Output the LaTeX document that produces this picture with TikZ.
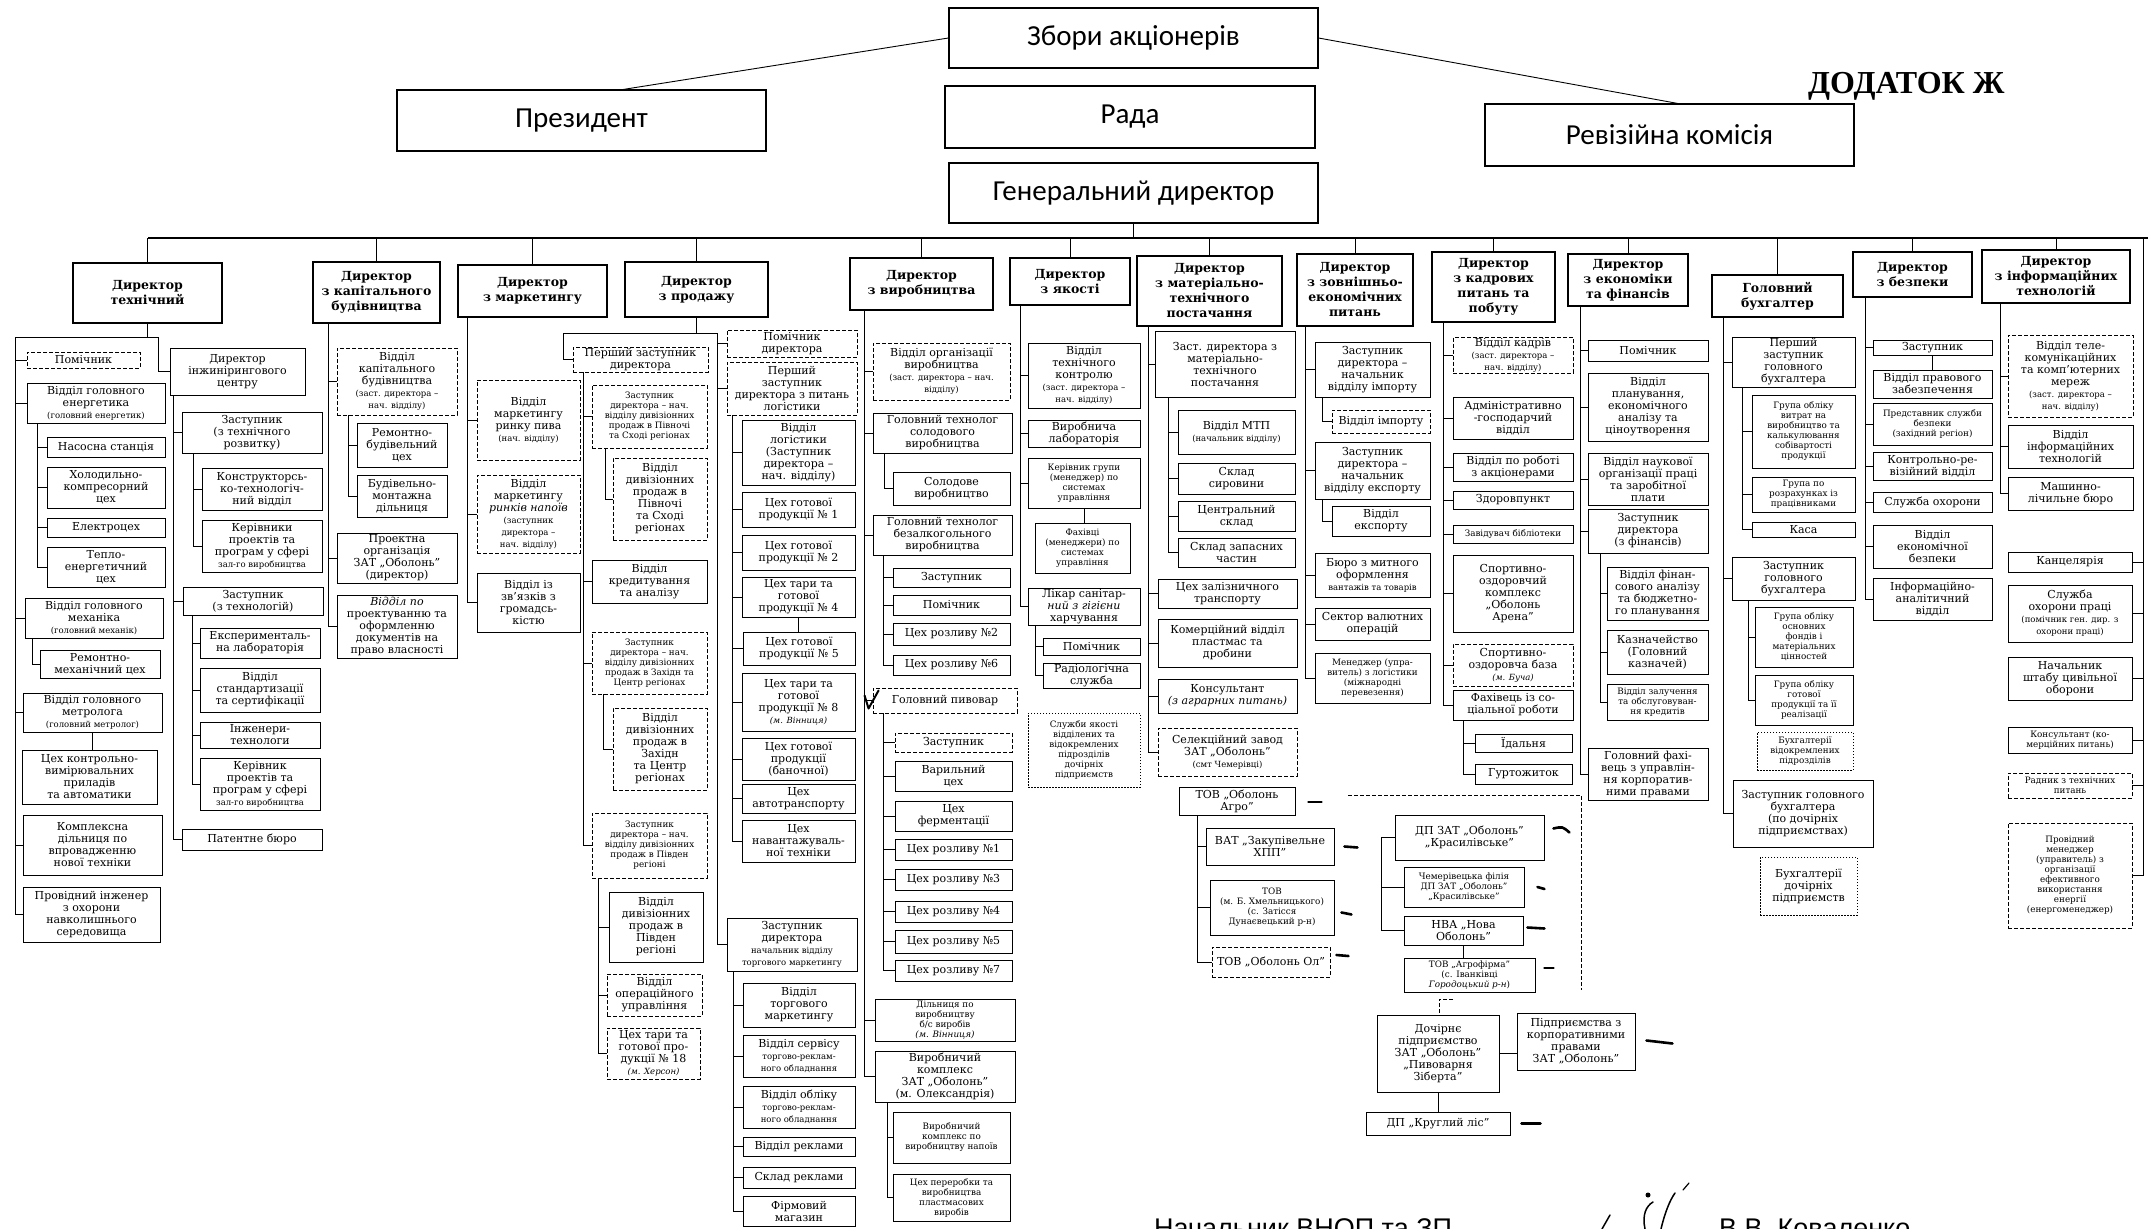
\documentclass[tikz,border=0pt]{standalone}
\usepackage{fontspec}
\setmainfont{DejaVu Serif}
\newfontfamily\hdrf{Carlito}
\newfontfamily\tmsf{Liberation Serif}
\newfontfamily\arsf{Liberation Sans}
\usetikzlibrary{calc}
\tikzset{
 box/.style={draw, line width=0.9pt, align=center, inner sep=1pt, font=\fontsize{11}{12}\selectfont},
 dir/.style={line width=1.3pt, font=\bfseries\fontsize{12.5}{15}\selectfont},
 hdrb/.style={line width=1.2pt, font=\hdrf\fontsize{29}{31}\selectfont},
 smf/.style={font=\fontsize{8.8}{10}\selectfont},
 dsh/.style={dash pattern=on 4pt off 2pt},
 dotb/.style={dash pattern=on 1.5pt off 1.5pt},
 ln/.style={line width=0.9pt},
 mk/.style={line width=2.6pt, line cap=round},
}
\newcommand\smtxt{\fontsize{8.5}{9}\selectfont}
\newcommand\bx[7][]{\node[box,#1,minimum width={(#5)-(#3)},minimum height={(#6)-(#4)}] (#2) at ({((#3)+(#5))/2},{((#4)+(#6))/2}) {#7};}
\newcommand\tree[3]{\coordinate (sp) at (#2,0); \foreach \ch in {#3}{\draw[ln] (#1.south -| sp) |- (\ch.west);}}
\begin{document}
\begin{tikzpicture}[x=1pt,y=-1pt]
\fill[white] (0,0) rectangle (2148,1229);
\useasboundingbox (0,0) rectangle (2148,1229);
% header
\bx[hdrb]{zb}{949}{8}{1318}{68}{Збори акціонерів}
\bx[hdrb]{pres}{397}{90}{766}{151}{Президент}
\bx[hdrb]{rada}{945}{86}{1315}{148}{Рада}
\bx[hdrb]{rev}{1485}{104}{1854}{166}{Ревізійна комісія}
\bx[hdrb]{gd}{949}{163}{1318}{223}{Генеральний директор}
\node[font=\tmsf\bfseries\fontsize{32}{34}\selectfont, anchor=base west, inner sep=0] (dod) at (1808,93) {ДОДАТОК Ж};
\draw[ln] (zb.west) -- ($(pres.north)+(42,0)$);
\draw[ln] (zb.east) -- ($(rev.north)+(8,0)$);
% col1
\bx[dir]{dT}{73}{263}{222}{323}{Директор\\технічний}
\bx[dsh]{pom1}{27}{352}{140}{368}{Помічник}
\bx{ven}{27}{383}{165}{423}{Відділ головного\\енергетика\\{\smtxt(головний енергетик)}}
\bx{nas}{47}{437}{165}{457}{Насосна станція}
\bx{hol}{47}{467}{165}{508}{Холодильно-\\компресорний\\цех}
\bx{el}{47}{518}{165}{537}{Електроцех}
\bx{tep}{47}{547}{165}{587}{Тепло-\\енергетичний\\цех}
\bx{vmeh}{25}{598}{163}{638}{Відділ головного\\механіка\\{\smtxt(головний механік)}}
\bx{rmc}{40}{650}{160}{678}{Ремонтно-\\механічний цех}
\bx{vmet}{23}{693}{162}{732}{Відділ головного\\метролога\\{\smtxt(головний метролог)}}
\bx{kvp}{22}{750}{157}{804}{Цех контрольно-\\вимірювальних\\приладів\\та автоматики}
\bx{kdil}{23}{815}{162}{875}{Комплексна\\дільниця по\\впровадженню\\нової техніки}
\bx{prov}{23}{887}{160}{942}{Провідний інженер\\з охорони\\навколишнього\\середовища}
\bx{dic}{170}{348}{305}{395}{Директор\\інжинірингового\\центру}
\bx{zt}{182}{412}{322}{453}{Заступник\\(з технічного\\розвитку)}
\bx{ktv}{202}{468}{322}{510}{Конструкторсь-\\ко-технологіч-\\ний відділ}
\bx{kpp1}{202}{520}{322}{572}{Керівники\\проектів та\\програм у сфері\\{\smtxt зал-го виробництва}}
\bx{ztech}{183}{587}{323}{615}{Заступник\\(з технологій)}
\bx{exl}{200}{628}{320}{658}{Експерименталь-\\на лабораторія}
\bx{vst}{200}{668}{320}{712}{Відділ\\стандартизації\\та сертифікації}
\bx{inz}{200}{722}{320}{748}{Інженери-\\технологи}
\bx{kpp2}{200}{758}{320}{810}{Керівник\\проектів та\\програм у сфері\\{\smtxt зал-го виробництва}}
\bx{pat}{182}{829}{322}{850}{Патентне бюро}
% col2
\bx[dir]{dKB}{313}{262}{440}{323}{Директор\\з капітального\\будівництва}
\bx[dsh]{vkb}{337}{348}{457}{415}{Відділ\\капітального\\будівництва\\{\smtxt(заст. директора –}\\{\smtxt нач. відділу)}}
\bx{rbc}{357}{423}{447}{467}{Ремонтно-\\будівельний\\цех}
\bx{bmd}{357}{475}{447}{517}{Будівельно-\\монтажна\\дільниця}
\bx{proj}{337}{533}{457}{583}{Проектна\\організація\\ЗАТ „Оболонь”\\(директор)}
\bx{vpr}{337}{595}{457}{658}{{\itshape Відділ по}\\проектуванню та\\оформленню\\документів на\\право власності}
% col3
\bx[dir]{dM}{458}{265}{607}{317}{Директор\\з маркетингу}
\bx[dsh]{vmp}{477}{380}{580}{460}{Відділ\\маркетингу\\ринку пива\\{\smtxt(нач. відділу)}}
\bx[dsh]{vmn}{477}{475}{580}{553}{Відділ\\маркетингу\\{\itshape ринків напоїв}\\{\smtxt(заступник}\\{\smtxt директора –}\\{\smtxt нач. відділу)}}
\bx{vzg}{477}{573}{580}{632}{Відділ із\\зв'язків з\\громадсь-\\кістю}
% col4
\bx[dir]{dP}{625}{262}{768}{317}{Директор\\з продажу}
\bx[dsh]{pz}{573}{347}{708}{372}{Перший заступник\\директора}
\bx[dsh,smf]{zpn}{592}{385}{707}{448}{Заступник\\директора – нач.\\відділу дивізіонних\\продаж в Півночі\\та Сході регіонах}
\bx[dsh]{vdpn}{613}{458}{707}{540}{Відділ\\дивізіонних\\продаж в\\Півночі\\та Сході\\регіонах}
\bx{vkr}{592}{560}{707}{603}{Відділ\\кредитування\\та аналізу}
\bx[dsh,smf]{zzc}{592}{632}{707}{694}{Заступник\\директора – нач.\\відділу дивізіонних\\продаж в Західн та\\Центр регіонах}
\bx[dsh]{vdzc}{613}{708}{707}{790}{Відділ\\дивізіонних\\продаж в\\Західн\\та Центр\\регіонах}
\bx[dsh,smf]{zpd}{592}{813}{707}{878}{Заступник\\директора – нач.\\відділу дивізіонних\\продаж в Півден\\регіоні}
\bx{vdpd}{609}{892}{703}{962}{Відділ\\дивізіонних\\продаж в\\Півден\\регіоні}
\bx[dsh]{vop}{607}{974}{702}{1016}{Відділ\\операційного\\управління}
\bx[dsh]{ct18}{607}{1028}{700}{1079}{Цех тари та\\готової про-\\дукції № 18\\{\smtxt\itshape(м. Херсон)}}
\bx[dsh]{pomd}{727}{330}{857}{357}{Помічник\\директора}
\bx[dsh]{pzl}{727}{362}{857}{415}{Перший\\заступник\\директора з питань\\логістики}
\bx{vlog}{742}{420}{855}{485}{Відділ\\логістики\\(Заступник\\директора –\\нач. відділу)}
\bx{c1}{742}{492}{855}{527}{Цех готової\\продукції № 1}
\bx{c2}{742}{535}{855}{570}{Цех готової\\продукції № 2}
\bx{c4}{742}{577}{855}{617}{Цех тари та\\готової\\продукції № 4}
\bx{c5}{743}{632}{855}{665}{Цех готової\\продукції № 5}
\bx{c8}{742}{673}{855}{731}{Цех тари та\\готової\\продукції № 8\\{\smtxt\itshape(м. Вінниця)}}
\bx{cban}{742}{738}{855}{780}{Цех готової\\продукції\\(баночної)}
\bx{cavt}{742}{784}{855}{813}{Цех\\автотранспорту}
\bx{cnav}{742}{820}{855}{862}{Цех\\навантажуваль-\\ної техніки}
\bx{ztm}{727}{918}{857}{971}{Заступник\\директора\\{\smtxt начальник відділу}\\{\smtxt торгового маркетингу}}
\bx{vtm}{743}{983}{855}{1027}{Відділ\\торгового\\маркетингу}
\bx{vser}{743}{1035}{855}{1077}{Відділ сервісу\\{\smtxt торгово-реклам-}\\{\smtxt ного обладнання}}
\bx{vobl}{743}{1086}{855}{1128}{Відділ обліку\\{\smtxt торгово-реклам-}\\{\smtxt ного обладнання}}
\bx{vrek}{743}{1137}{855}{1156}{Відділ реклами}
\bx{skr}{743}{1167}{855}{1188}{Склад реклами}
\bx{fm}{743}{1196}{855}{1226}{Фірмовий\\магазин}
% col5
\bx[dir]{dV}{850}{258}{993}{310}{Директор\\з виробництва}
\bx[dsh]{vorg}{873}{343}{1010}{400}{Відділ організації\\виробництва\\{\smtxt(заст. директора – нач.}\\{\smtxt відділу)}}
\bx{gts}{873}{413}{1012}{453}{Головний технолог\\солодового\\виробництва}
\bx{sol}{893}{472}{1010}{505}{Солодове\\виробництво}
\bx{gtb}{873}{515}{1012}{555}{Головний технолог\\безалкогольного\\виробництва}
\bx{zb}{893}{568}{1010}{587}{Заступник}
\bx{pomb}{893}{595}{1010}{615}{Помічник}
\bx{cr2}{893}{623}{1010}{645}{Цех розливу №2}
\bx{cr6}{893}{655}{1010}{675}{Цех розливу №6}
\bx[dsh]{gp}{873}{688}{1017}{713}{Головний пивовар}
\bx[dsh]{zgp}{895}{733}{1012}{752}{Заступник}
\bx{var}{895}{761}{1012}{791}{Варильний\\цех}
\bx{fer}{895}{801}{1012}{831}{Цех\\ферментації}
\bx{cr1}{895}{839}{1012}{860}{Цех розливу №1}
\bx{cr3}{895}{869}{1012}{890}{Цех розливу №3}
\bx{cr4}{895}{901}{1012}{922}{Цех розливу №4}
\bx{cr5}{895}{930}{1012}{953}{Цех розливу №5}
\bx{cr7}{895}{960}{1012}{981}{Цех розливу №7}
\bx[smf]{dil}{875}{999}{1015}{1041}{Дільниця по\\виробництву\\б/с виробів\\{\itshape(м. Вінниця)}}
\bx{vk}{875}{1051}{1015}{1102}{Виробничий\\комплекс\\ЗАТ „Оболонь”\\(м. Олександрія)}
\bx[smf]{vkn}{893}{1112}{1010}{1163}{Виробничий\\комплекс по\\виробництву напоїв}
\bx[smf]{cpp}{893}{1174}{1010}{1221}{Цех переробки та\\виробництва\\пластмасових\\виробів}
% col6
\bx[dir]{dQ}{1010}{258}{1130}{305}{Директор\\з якості}
\bx{vtk}{1028}{343}{1140}{408}{Відділ\\технічного\\контролю\\{\smtxt(заст. директора –}\\{\smtxt нач. відділу)}}
\bx{vlab}{1028}{420}{1140}{447}{Виробнича\\лабораторія}
\bx[smf]{kg}{1028}{458}{1140}{508}{Керівник групи\\(менеджер) по\\системах\\управління}
\bx[smf]{fah}{1035}{523}{1130}{573}{Фахівці\\(менеджери) по\\системах\\управління}
\bx{lik}{1028}{588}{1140}{625}{Лікар санітар-\\{\itshape ний з гігієни}\\харчування}
\bx{pomq}{1043}{638}{1140}{655}{Помічник}
\bx{rad}{1043}{663}{1140}{688}{Радіологічна\\служба}
\bx[dotb,smf]{sly}{1028}{713}{1140}{787}{Служби якості\\відділених та\\відокремлених\\підрозділів\\дочірніх\\підприємств}
% col7
\bx[dir]{dMTP}{1137}{256}{1282}{326}{Директор\\з матеріально-\\технічного\\постачання}
\bx{zmtp}{1155}{331}{1295}{397}{Заст. директора з\\матеріально-\\технічного\\постачання}
\bx{vmtp}{1178}{410}{1295}{454}{Відділ МТП\\{\smtxt(начальник відділу)}}
\bx{sks}{1178}{463}{1295}{494}{Склад\\сировини}
\bx{csk}{1178}{501}{1295}{531}{Центральний\\склад}
\bx{szch}{1178}{538}{1295}{567}{Склад запасних\\частин}
\bx{czt}{1158}{579}{1297}{608}{Цех залізничного\\транспорту}
\bx{kom}{1158}{619}{1297}{667}{Комерційний відділ\\пластмас та\\дробини}
\bx{kons}{1158}{679}{1297}{713}{Консультант\\{\itshape(з аграрних питань)}}
\bx[dsh]{sel}{1158}{728}{1297}{776}{Селекційний завод\\ЗАТ „Оболонь”\\{\smtxt(смт Чемерівці)}}
\bx{agro1}{1179}{787}{1295}{815}{ТОВ „Оболонь\\Агро”}
\bx{vat}{1206}{828}{1334}{865}{ВАТ „Закупівельне\\ХПП”}
\bx[smf]{tovb}{1210}{880}{1334}{935}{ТОВ\\(м. Б. Хмельницького)\\(с. Затісся\\Дунаєвецький р-н)}
\bx[dsh]{tovol}{1212}{947}{1330}{977}{ТОВ „Оболонь Ол”}
\bx{dpk}{1395}{815}{1544}{860}{ДП ЗАТ „Оболонь”\\„Красилівське”}
\bx[smf]{chem}{1404}{867}{1524}{907}{Чемерівецька філія\\ДП ЗАТ „Оболонь”\\„Красилівське”}
\bx{nva}{1404}{916}{1523}{945}{НВА „Нова\\Оболонь”}
\bx[smf]{agf}{1404}{958}{1535}{992}{ТОВ „Агрофірма”\\(с. Іванківці\\{\itshape Городоцький р-н})}
\bx{doch}{1377}{1015}{1499}{1092}{Дочірнє\\підприємство\\ЗАТ „Оболонь”\\„Пивоварня\\Зіберта”}
\bx{pidp}{1517}{1013}{1635}{1070}{Підприємства з\\корпоративними\\правами\\ЗАТ „Оболонь”}
\bx{krug}{1366}{1112}{1510}{1135}{ДП „Круглий ліс”}
% col8
\bx[dir]{dZ}{1297}{254}{1413}{326}{Директор\\з зовнішньо-\\економічних\\питань}
\bx{zimp}{1315}{342}{1430}{397}{Заступник\\директора –\\начальник\\відділу імпорту}
\bx[dsh]{vimp}{1332}{410}{1430}{433}{Відділ імпорту}
\bx{zexp}{1315}{442}{1430}{499}{Заступник\\директора –\\начальник\\відділу експорту}
\bx{vexp}{1332}{506}{1430}{536}{Відділ\\експорту}
\bx{bmo}{1315}{553}{1430}{597}{Бюро з митного\\оформлення\\{\smtxt вантажів та товарів}}
\bx{svo}{1315}{608}{1430}{640}{Сектор валютних\\операцій}
\bx[smf]{men}{1315}{653}{1430}{703}{Менеджер (упра-\\витель) з логістики\\(міжнародні\\перевезення)}
% col9
\bx[dir]{dK}{1432}{252}{1555}{322}{Директор\\з кадрових\\питань та\\побуту}
\bx[dsh]{vkad}{1453}{338}{1573}{373}{Відділ кадрів\\{\smtxt(заст. директора –}\\{\smtxt нач. відділу)}}
\bx{ahv}{1453}{397}{1573}{439}{Адміністративно\\-господарчий\\відділ}
\bx{vak}{1453}{453}{1573}{481}{Відділ по роботі\\з акціонерами}
\bx{zdr}{1453}{491}{1573}{509}{Здоровпункт}
\bx[smf]{bib}{1453}{525}{1573}{543}{Завідувач бібліотеки}
\bx{sok}{1453}{555}{1573}{632}{Спортивно-\\оздоровчий\\комплекс\\„Оболонь\\Арена”}
\bx[dsh]{sob}{1453}{644}{1573}{686}{Спортивно-\\оздоровча база\\{\smtxt\itshape(м. Буча)}}
\bx{fsr}{1453}{690}{1573}{720}{Фахівець із со-\\ціальної роботи}
\bx{idl}{1475}{734}{1572}{752}{Їдальня}
\bx{gur}{1475}{764}{1572}{784}{Гуртожиток}
% col10
\bx[dir]{dE}{1568}{254}{1688}{306}{Директор\\з економіки\\та фінансів}
\bx{pome}{1588}{340}{1708}{361}{Помічник}
\bx{vpl}{1588}{373}{1708}{441}{Відділ\\планування,\\економічного\\аналізу та\\ціноутворення}
\bx{vno}{1588}{453}{1708}{505}{Відділ наукової\\організації праці\\та заробітної\\плати}
\bx{zdf}{1588}{509}{1708}{553}{Заступник\\директора\\(з фінансів)}
\bx{vfa}{1607}{567}{1708}{620}{Відділ фінан-\\сового аналізу\\та бюджетно-\\го планування}
\bx{kaz}{1607}{630}{1708}{674}{Казначейство\\(Головний\\казначей)}
\bx[smf]{vzk}{1607}{684}{1708}{720}{Відділ залучення\\та обслуговуван-\\ня кредитів}
\bx{gfk}{1588}{748}{1708}{800}{Головний фахі-\\вець з управлін-\\ня корпоратив-\\ними правами}
% col11
\bx[dir]{gb}{1712}{275}{1843}{317}{Головний\\бухгалтер}
\bx{pzb}{1732}{337}{1855}{387}{Перший\\заступник\\головного\\бухгалтера}
\bx[smf]{gov}{1752}{395}{1855}{468}{Група обліку\\витрат на\\виробництво та\\калькулювання\\собівартості\\продукції}
\bx[smf]{gpr}{1752}{477}{1855}{512}{Група по\\розрахунках із\\працівниками}
\bx{kasa}{1752}{522}{1855}{537}{Каса}
\bx{zgb}{1732}{557}{1855}{600}{Заступник\\головного\\бухгалтера}
\bx[smf]{gof}{1755}{607}{1853}{667}{Група обліку\\основних\\фондів і\\матеріальних\\цінностей}
\bx[smf]{ggp}{1755}{675}{1853}{725}{Група обліку\\готової\\продукції та її\\реалізації}
\bx[dotb,smf]{bvp}{1757}{732}{1853}{770}{Бухгалтерії\\відокремлених\\підрозділів}
\bx{zgbd}{1733}{780}{1873}{847}{Заступник головного\\бухгалтера\\(по дочірніх\\підприємствах)}
\bx[dotb]{bdp}{1760}{857}{1857}{915}{Бухгалтерії\\дочірніх\\підприємств}
% col12
\bx[dir]{dB}{1853}{252}{1972}{297}{Директор\\з безпеки}
\bx{zbz}{1873}{340}{1992}{355}{Заступник}
\bx{vpz}{1873}{370}{1992}{398}{Відділ правового\\забезпечення}
\bx[smf]{psb}{1873}{403}{1992}{445}{Представник служби\\безпеки\\(західний регіон)}
\bx{krv}{1873}{452}{1992}{480}{Контрольно-ре-\\візійний відділ}
\bx{sohr}{1873}{492}{1992}{512}{Служба охорони}
\bx{veb}{1873}{525}{1992}{568}{Відділ\\економічної\\безпеки}
\bx{iav}{1873}{578}{1992}{620}{Інформаційно-\\аналітичний\\відділ}
% col13
\bx[dir]{dI}{1982}{250}{2130}{303}{Директор\\з інформаційних\\технологій}
\bx[dsh]{vtel}{2008}{335}{2133}{417}{Відділ теле-\\комунікаційних\\та комп'ютерних\\мереж\\{\smtxt(заст. директора –}\\{\smtxt нач. відділу)}}
\bx{vit}{2008}{425}{2133}{468}{Відділ\\інформаційних\\технологій}
\bx{mlb}{2008}{477}{2133}{510}{Машинно-\\лічильне бюро}
\bx{kanc}{2008}{552}{2132}{572}{Канцелярія}
\bx{sop}{2008}{585}{2132}{642}{Служба\\охорони праці\\{\smtxt(помічник ген. дир. з}\\{\smtxt охорони праці)}}
\bx{nsh}{2008}{657}{2132}{700}{Начальник\\штабу цивільної\\оборони}
\bx[smf]{konsk}{2008}{727}{2132}{753}{Консультант (ко-\\мерційних питань)}
\bx[dsh,smf]{radn}{2008}{773}{2132}{798}{Радник з технічних\\питань}
\bx[dsh,smf]{pmen}{2008}{823}{2132}{928}{Провідний\\менеджер\\(управитель) з\\організації\\ефективного\\використання\\енергії\\(енергоменеджер)}
% bus
\coordinate (busL) at (148,238); \coordinate (busR) at (2148,238);
\draw[line width=1.1pt] (busL) -- (busR);
\draw[ln] (gd.south) -- (gd.south |- busL);
\foreach \dd in {dT,dKB,dM,dP,dV,dQ,dMTP,dZ,dK,dE,gb,dB,dI} \draw[ln] (\dd.north |- busL) -- (\dd.north);
% col1 links
\coordinate (tj) at (148,337); \coordinate (tl) at (15,337); \coordinate (tr) at (158,337);
\draw[ln] (dT.south) -- (dT.south |- tj);
\draw[ln] (tl) -- (tr);
\foreach \ch in {pom1,ven,vmeh,vmet,kdil,prov} \draw[ln] (tl) |- (\ch.west);
\draw[ln] (tr) |- (dic.west);
\tree{ven}{37}{nas,hol,el,tep}
\tree{vmeh}{32}{rmc}
\draw[ln] (vmet.south) -- (vmet.south |- kvp.north);
\tree{dic}{173}{zt,ztech,pat}
\tree{zt}{193}{ktv,kpp1}
\tree{ztech}{192}{exl,vst,inz,kpp2}
% col2, col3
\tree{dKB}{328}{vkb,proj,vpr}
\tree{vkb}{348}{rbc,bmd}
\tree{dM}{467}{vmp,vmn,vzg}
% col4
\coordinate (pj) at (696,333); \coordinate (pl) at (563,333); \coordinate (pr) at (717,333);
\draw[ln] (dP.south) -- (dP.south |- pj);
\draw[ln] (pl) -- (pr);
\draw[ln] (pl) |- (pz.west);
\foreach \ch in {pomd,pzl,ztm} \draw[ln] (pr) |- (\ch.west);
\tree{pz}{583}{zpn,vkr,zzc,zpd}
\tree{zpn}{605}{vdpn}
\tree{zzc}{603}{vdzc}
\tree{zpd}{598}{vdpd,vop,ct18}
\tree{pzl}{732}{vlog,c1,c2,c4,c5,c8,cban,cavt,cnav}
\draw[ln] (c4.south) -- (c4.south |- c5.north);
\tree{ztm}{733}{vtm,vser,vobl,vrek,skr,fm}
% col5
\tree{dV}{864}{vorg,gts,gtb,gp,dil,vk}
\tree{gts}{884}{sol}
\tree{gtb}{883}{zb,pomb,cr2,cr6}
\tree{gp}{883}{zgp,var,fer,cr1,cr3,cr4,cr5,cr7}
\tree{vk}{887}{vkn,cpp}
\draw[line width=2pt, line cap=round, line join=round] ($(gp.west)+(-8,-5)$) -- ($(gp.west)+(-4,8)$) -- ($(gp.west)+(6,-10)$);
% col6
\tree{dQ}{1020}{vtk,vlab,kg,lik}
\draw[ln] (kg.south) -- (kg.south |- fah.north);
\tree{lik}{1035}{pomq,rad}
% col7
\tree{dMTP}{1148}{zmtp,czt,kom,kons,sel}
\tree{zmtp}{1168}{vmtp,sks,csk,szch}
\tree{agro1}{1197}{vat,tovb,tovol}
\coordinate (cs) at (1381,0);
\draw[ln] (dpk.west) -- (dpk.west -| cs) |- (nva.west);
\draw[ln] (chem.west) -- (chem.west -| cs);
\draw[ln] (nva.south) -- (nva.south |- agf.north);
\draw[line width=1.8pt] (doch.east) -- (doch.east -| pidp.west);
\draw[ln] (doch.south) -- (doch.south |- krug.north);
\coordinate (dl1) at (1348,795); \coordinate (dl2) at (1581,795); \coordinate (dl3) at (1581,990);
\draw[ln,dsh] (dl1) -- (dl2) -- (dl3);
\coordinate (dl4) at (1453,999); \coordinate (dl5) at (1439,999);
\draw[ln,dsh] (dl4) -- (dl5) -- (dl5 |- doch.north);
\draw[mk] ($(agro1.east)+(13,1)$) -- ++(13,0);
\draw[mk] ($(vat.east)+(10,0)$) -- ++(13,1);
\draw[mk] ($(tovb.east)+(7,5)$) -- ++(10,2);
\draw[mk] ($(tovol.east)+(6,-7)$) -- ++(12,1);
\draw[mk] ($(dpk.east)+(9,-9)$) .. controls ($(dpk.east)+(18,-11)$) .. ($(dpk.east)+(25,-5)$);
\draw[mk] ($(chem.east)+(13,0)$) -- ++(7,2);
\draw[mk] ($(nva.east)+(4,-3)$) -- ++(17,1);
\draw[mk] ($(agf.east)+(9,-7)$) -- ++(9,0);
\draw[mk] ($(pidp.east)+(11,-1)$) -- ++(26,3);
\draw[mk] ($(krug.east)+(11,0)$) -- ++(19,0);
% col8..col13
\tree{dZ}{1305}{zimp,zexp,bmo,svo,men}
\tree{zimp}{1322}{vimp}
\tree{zexp}{1322}{vexp}
\tree{dK}{1443}{vkad,ahv,vak,zdr,bib,sok,sob,fsr}
\tree{fsr}{1463}{idl,gur}
\tree{dE}{1580}{pome,vpl,vno,zdf,gfk}
\tree{zdf}{1600}{vfa,kaz,vzk}
\tree{gb}{1723}{pzb,zgb,zgbd}
\tree{pzb}{1742}{gov,gpr,kasa}
\tree{zgb}{1748}{gof,ggp}
\tree{dB}{1865}{zbz,psb,krv,sohr,veb,iav}
\draw[ln] (zbz.south) -- (zbz.south |- vpz.north);
\tree{dI}{2000}{vtel,vit,mlb}
\coordinate (rsp) at (2143,238);
\draw[ln] (rsp) -- (rsp |- pmen.east);
\foreach \ch in {kanc,sop,nsh,konsk,radn,pmen} \draw[ln] (\ch.east) -- (\ch.east -| rsp);
% signature and footer
\node[font=\arsf\fontsize{27}{29}\selectfont, anchor=base west, inner sep=0] (nach) at (1154,1237) {Начальник ВНОП та ЗП};
\node[font=\arsf\fontsize{27}{29}\selectfont, anchor=base west, inner sep=0] (kov) at (1719,1237) {В.В. Коваленко};
\draw[line width=1.5pt, line cap=round] (1602,1229) -- (1610,1215);
\draw[line width=1.5pt, line cap=round] (1645,1229) .. controls (1642,1215) and (1646,1206) .. (1653,1202);
\draw[line width=1.5pt, line cap=round] (1661,1229) .. controls (1665,1212) and (1670,1200) .. (1675,1193);
\draw[line width=1.2pt, line cap=round] (1683,1190) -- (1689,1183);
\fill (1648,1195) circle (2.5);
\end{tikzpicture}
\end{document}
